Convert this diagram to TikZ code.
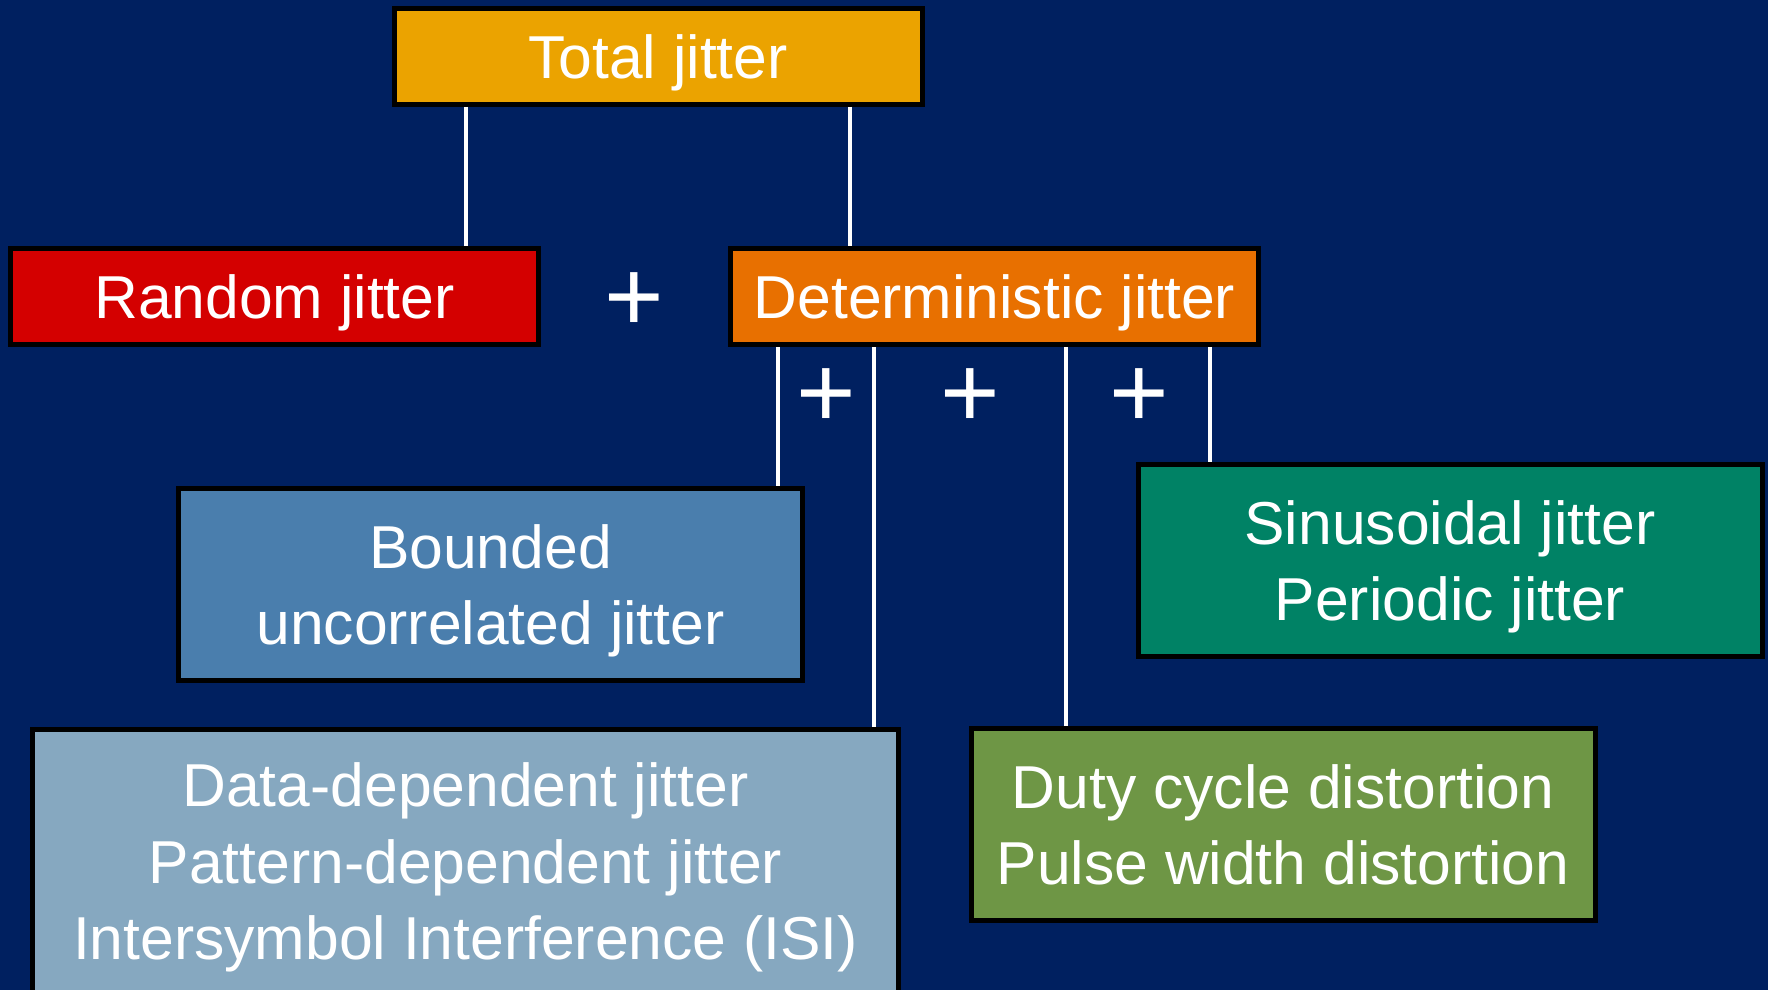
\documentclass[tikz,border=0pt]{standalone}
\usepackage{fontspec}
\setmainfont{Liberation Sans}
\definecolor{navy}{HTML}{002060}
\definecolor{totalfill}{HTML}{EBA300}
\definecolor{randfill}{HTML}{D40000}
\definecolor{detfill}{HTML}{E87000}
\definecolor{bujfill}{HTML}{4A7EAD}
\definecolor{ddjfill}{HTML}{86A8C0}
\definecolor{pjfill}{HTML}{008265}
\definecolor{dcdfill}{HTML}{6E9645}
% strut giving every text line the same height and depth
\newcommand\js{\rule[-8.25pt]{0pt}{38.25pt}}
\begin{document}
\begin{tikzpicture}[x=0.5pt,y=-0.5pt,
  box/.style={draw=black, line width=2.5pt, inner sep=0pt, text=white,
    align=center, font=\fontsize{30.3pt}{38.25pt}\selectfont},
  headbox/.style={box, minimum width=264pt, minimum height=48pt},
  leafbox/.style={box, minimum width=312pt, minimum height=96pt},
  wire/.style={draw=white, line width=2.25pt},
  plussign/.style={text=white, inner sep=0pt, font=\fontsize{51pt}{51pt}\selectfont}]
\useasboundingbox (0,0) rectangle (1768,990);
\clip (0,0) rectangle (1768,990);
\fill[navy] (0,0) rectangle (1768,990);

% jitter components
\node[headbox, fill=totalfill] (total)  at (658,56.5)    {\js Total jitter};
\node[headbox, fill=randfill]  (random) at (274.5,296.5) {\js Random jitter};
\node[headbox, fill=detfill]   (det)    at (994.5,296.5) {\js Deterministic jitter};
\node[leafbox, fill=bujfill]   (buj)    at (490.5,584.5) {\js Bounded\\\js uncorrelated jitter};
\node[leafbox, fill=pjfill]    (pj)     at (1450,560.5)  {\js Sinusoidal jitter\\\js Periodic jitter};
\node[leafbox, fill=dcdfill]   (dcd)    at (1283,824.5)  {\js Duty cycle distortion\\\js Pulse width distortion};
\node[box, fill=ddjfill, minimum width=433pt, minimum height=132pt] (ddj) at (465.5,861.5)
  {\js Data-dependent jitter\\\js Pattern-dependent jitter\\\js Intersymbol Interference (ISI)};

% plus signs between summed components
\node[plussign] (p0) at (634,302.5) {+};
\node[plussign] (p1) at (826,398)   {+};
\node[plussign] (p2) at (970,398)   {+};
\node[plussign] (p3) at (1139,398)  {+};

% tap positions of the connectors
\coordinate (tR) at (466,0);
\coordinate (tD) at (850,0);
\coordinate (tB) at (778,0);
\coordinate (tI) at (874,0);
\coordinate (tC) at (1066,0);
\coordinate (tS) at (1210,0);

\draw[wire] (total.south -| tR) -- (random.north -| tR);
\draw[wire] (total.south -| tD) -- (det.north -| tD);
\draw[wire] (det.south -| tB) -- (buj.north -| tB);
\draw[wire] (det.south -| tI) -- (ddj.north -| tI);
\draw[wire] (det.south -| tC) -- (dcd.north -| tC);
\draw[wire] (det.south -| tS) -- (pj.north -| tS);
\end{tikzpicture}
\end{document}
